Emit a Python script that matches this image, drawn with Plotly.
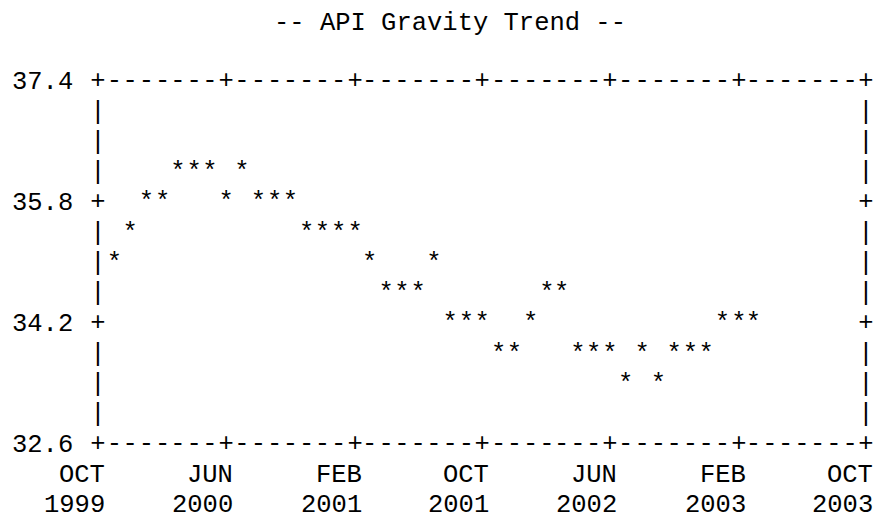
import plotly.graph_objects as go
import pandas as pd

# ---- data ----
months = pd.date_range("1999-11-01", "2003-03-01", freq="MS")
api_gravity = [35.0, 35.4, 35.8, 35.8, 36.2, 36.2, 36.2, 35.8, 36.2, 35.8,
               35.8, 35.8, 35.4, 35.4, 35.4, 35.4, 35.0, 34.6, 34.6, 34.6,
               35.0, 34.2, 34.2, 34.2, 33.8, 33.8, 34.2, 34.6, 34.6, 33.8,
               33.8, 33.8, 33.4, 33.8, 33.4, 33.8, 33.8, 33.8, 34.2, 34.2,
               34.2]
x_tick_dates = ["1999-10-01", "2000-06-01", "2001-02-01", "2001-10-01",
                "2002-06-01", "2003-02-01", "2003-10-01"]
x_tick_month = ["OCT", "JUN", "FEB", "OCT", "JUN", "FEB", "OCT"]
x_tick_year = ["1999", "2000", "2001", "2001", "2002", "2003", "2003"]
y_ticks = [37.4, 35.8, 34.2, 32.6]
y_tick_labels = ["37.4", "35.8", "34.2", "32.6"]
title = "-- API Gravity Trend --"

X0, X1 = "1999-10-01", "2003-10-01"
Y0, Y1 = 32.6, 37.4
STEP = 0.4

FONT = "Liberation Mono, Courier New, Courier, monospace"
FS = 25.5
CH = 16  # char cell width px
ROW = 30.25  # row height px

fig = go.Figure()

# frame: top / bottom rules made of characters
frame_months = pd.date_range(X0, X1, freq="MS")
tick_set = set(pd.to_datetime(x_tick_dates))
fx, fy, ft = [], [], []
for yv in (Y1, Y0):
    for d in frame_months:
        fx.append(d)
        fy.append(yv)
        ft.append("+" if d in tick_set else "-")
# frame: left / right borders
nrows = round((Y1 - Y0) / STEP)
for k in range(1, nrows):
    yv = round(Y1 - k * STEP, 1)
    ch = "+" if any(abs(yv - t) < 1e-6 for t in y_ticks) else "|"
    for xd in (X0, X1):
        fx.append(pd.Timestamp(xd))
        fy.append(yv)
        ft.append(ch)

fig.add_trace(go.Scatter(
    x=fx, y=fy, text=ft, mode="text", textposition="middle center",
    textfont=dict(family=FONT, size=FS, color="#000000"),
    cliponaxis=False, hoverinfo="skip", showlegend=False))

# data points as asterisks
fig.add_trace(go.Scatter(
    x=months, y=api_gravity, text=["*"] * len(api_gravity), mode="text",
    textposition="middle center",
    textfont=dict(family=FONT, size=FS, color="#000000"),
    cliponaxis=False, name="API Gravity", showlegend=False))

annotations = []
for d, m, yr in zip(x_tick_dates, x_tick_month, x_tick_year):
    for txt, shift in ((m, -ROW), (yr, -2 * ROW)):
        annotations.append(dict(
            x=d, y=Y0, xref="x", yref="y", text=txt, showarrow=False,
            xanchor="right", yanchor="middle", xshift=CH / 2, yshift=shift,
            borderpad=0, font=dict(family=FONT, size=FS, color="#000000")))
for yv, lab in zip(y_ticks, y_tick_labels):
    annotations.append(dict(
        x=0, y=yv, xref="paper", yref="y", text=lab, showarrow=False,
        xanchor="right", yanchor="middle", xshift=-1.5 * CH, borderpad=0,
        font=dict(family=FONT, size=FS, color="#000000")))

# plot area (text renders ~2px above its anchor, so offset by 2)
L, T, PW, PH = 98, 82, 768, 363
annotations.append(dict(
    x=(450 - L) / PW, y=(T + PH - 24) / PH, xref="paper", yref="paper",
    text=title, showarrow=False, xanchor="center", yanchor="middle",
    borderpad=0, font=dict(family=FONT, size=FS, color="#000000")))

fig.update_layout(
    width=875, height=516,
    margin=dict(l=L, r=875 - L - PW, t=T, b=516 - T - PH),
    paper_bgcolor="white", plot_bgcolor="white",
    xaxis=dict(type="date", range=[X0, X1], visible=False, fixedrange=True),
    yaxis=dict(range=[Y0, Y1], visible=False, fixedrange=True),
    annotations=annotations,
)

fig.write_html(
    "out.html",
    config={"displayModeBar": False},
    post_script="document.body.style.margin='0';"
                "document.body.style.overflow='hidden';",
)
